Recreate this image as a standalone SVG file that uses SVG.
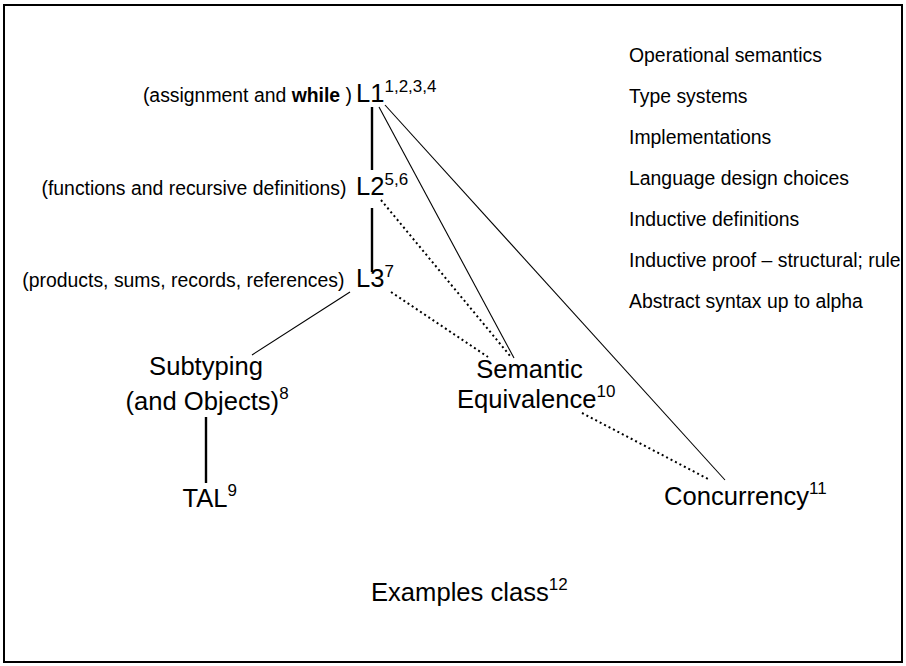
<svg xmlns="http://www.w3.org/2000/svg" width="906" height="666" viewBox="0 0 906 666">
<style>
  text { font-family: "Liberation Sans", Arial, Helvetica, sans-serif; fill: #000; }
  .big { font-size: 25.6px; }
  .small { font-size: 19.4px; }
  .sup { font-size: 17px; }
  .thick { stroke: #000; stroke-width: 2.4; fill: none; }
  .thin { stroke: #000; stroke-width: 1.1; fill: none; }
  .dot { stroke: #000; stroke-width: 2; stroke-dasharray: 2 3; fill: none; }
</style>
<rect x="4" y="5" width="898" height="657" fill="#fff" stroke="#000" stroke-width="2"/>

<g id="connectors">
  <line class="thick" x1="372" y1="107" x2="372" y2="170"/>
  <line class="thick" x1="372" y1="208" x2="372" y2="272"/>
  <line class="thick" x1="206" y1="417" x2="206" y2="483"/>
  <line class="thin" x1="350" y1="292" x2="252" y2="355"/>
  <line class="thin" x1="379" y1="107" x2="514" y2="358"/>
  <line class="thin" x1="385" y1="105" x2="725" y2="480"/>
  <line class="dot" x1="381" y1="200" x2="511" y2="357"/>
  <line class="dot" x1="391" y1="292" x2="488" y2="357"/>
  <line class="dot" x1="582" y1="413" x2="710" y2="480"/>
</g>

<g id="L1">
  <text class="small" x="352" y="102" text-anchor="end">(assignment and <tspan font-weight="bold">while</tspan> )</text>
  <text class="big" x="356" y="102">L1<tspan class="sup" dy="-10">1,2,3,4</tspan></text>
</g>
<g id="L2">
  <text class="small" x="346.5" y="195" text-anchor="end">(functions and recursive definitions)</text>
  <text class="big" x="356" y="195">L2<tspan class="sup" dy="-10">5,6</tspan></text>
</g>
<g id="L3">
  <text class="small" x="344.5" y="287" text-anchor="end">(products, sums, records, references)</text>
  <text class="big" x="356" y="287">L3<tspan class="sup" dy="-10">7</tspan></text>
</g>
<g id="subtyping">
  <text class="big" x="206" y="375" text-anchor="middle">Subtyping</text>
  <text class="big" x="125.5" y="410">(and Objects)<tspan class="sup" dy="-11">8</tspan></text>
</g>
<g id="tal">
  <text class="big" x="182.5" y="507">TAL<tspan class="sup" dy="-11">9</tspan></text>
</g>
<g id="semantic-equivalence">
  <text class="big" x="529.5" y="378" text-anchor="middle">Semantic</text>
  <text class="big" x="457" y="408">Equivalence<tspan class="sup" dy="-11">10</tspan></text>
</g>
<g id="concurrency">
  <text class="big" x="664" y="505">Concurrency<tspan class="sup" dy="-11">11</tspan></text>
</g>
<g id="examples-class">
  <text class="big" x="371" y="601">Examples class<tspan class="sup" dy="-11">12</tspan></text>
</g>
<g id="topics">
  <text class="small" x="629" y="62">Operational semantics</text>
  <text class="small" x="629" y="103">Type systems</text>
  <text class="small" x="629" y="144">Implementations</text>
  <text class="small" x="629" y="185">Language design choices</text>
  <text class="small" x="629" y="226">Inductive definitions</text>
  <text class="small" x="629" y="267">Inductive proof – structural; rule</text>
  <text class="small" x="629" y="308">Abstract syntax up to alpha</text>
</g>
</svg>
